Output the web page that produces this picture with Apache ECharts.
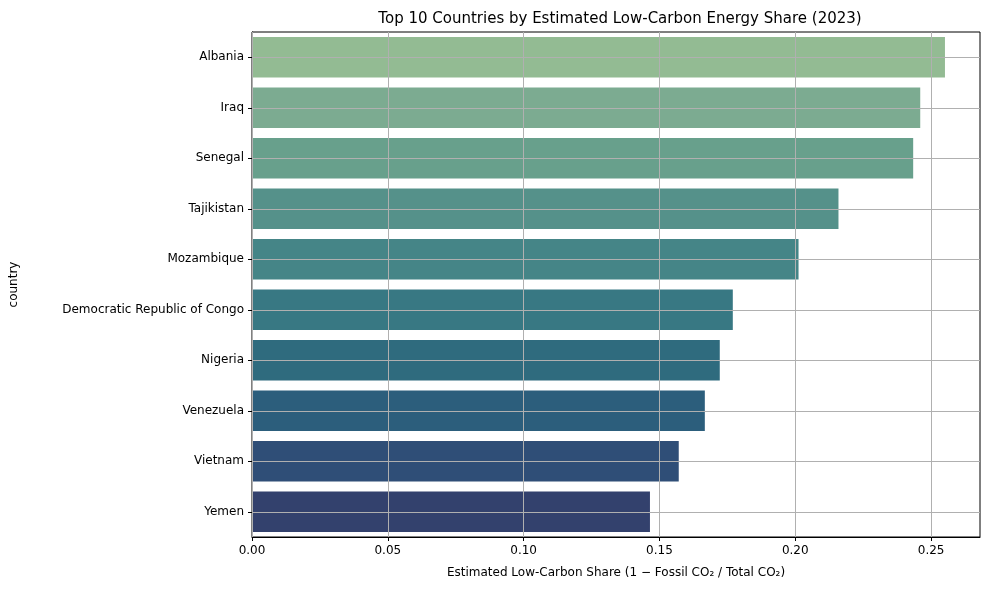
<!DOCTYPE html>
<html>
<head>
<meta charset="UTF-8">
<title>Low-Carbon Share</title>
<script src="https://cdn.jsdelivr.net/npm/echarts@6/dist/echarts.min.js"></script>
</head>
<body style="margin:0">
<div id="container" style="width:989px;height:590px"></div>
<script type="text/javascript">
var countries = ['Albania', 'Iraq', 'Senegal', 'Tajikistan', 'Mozambique', 'Democratic Republic of Congo', 'Nigeria', 'Venezuela', 'Vietnam', 'Yemen'];
var shares = [0.2551, 0.2460, 0.2434, 0.2159, 0.2012, 0.1770, 0.1722, 0.1667, 0.1571, 0.1465];
var colors = ['#93bb93', '#7cab91', '#68a08c', '#55918a', '#458587', '#387883', '#2f6b7e', '#2c5e7c', '#2f4e77', '#33416d'];
var xTicks = [0, 0.05, 0.10, 0.15, 0.20, 0.25];

var grid = {color: '#b0b0b0', width: 1};
var markData = xTicks.map(function (v) { return {xAxis: v}; })
    .concat(countries.map(function (c) { return {yAxis: c}; }));

var myChart = echarts.init(document.getElementById('container'));
myChart.setOption({
    animation: false,
    textStyle: {fontFamily: 'DejaVu Sans', color: '#000'},
    title: {
        text: 'Top 10 Countries by Estimated Low-Carbon Energy Share (2023)',
        left: 615, top: 7, textAlign: 'center',
        textStyle: {fontSize: 15, fontWeight: 'normal', color: '#000'}
    },
    grid: {left: 250, right: 9, top: 32, bottom: 53, show: true, borderColor: '#000', borderWidth: 1},
    xAxis: {
        type: 'value', min: 0, max: 0.268, interval: 0.05,
        name: 'Estimated Low-Carbon Share (1 \u2212 Fossil CO\u2082 / Total CO\u2082)',
        nameLocation: 'middle', nameGap: 30, nameTextStyle: {fontSize: 12, color: '#000'},
        axisLine: {show: true, lineStyle: {color: '#000'}},
        axisTick: {show: true, length: 4, lineStyle: {color: '#000'}},
        axisLabel: {color: '#000', fontSize: 12, formatter: function (v) { return v.toFixed(2); },
            showMaxLabel: false},
        splitLine: {show: false}
    },
    yAxis: {
        type: 'category', data: countries, inverse: true,
        name: 'country', nameLocation: 'middle', nameGap: 232, nameRotate: 90,
        nameTextStyle: {fontSize: 12, color: '#000'},
        axisLine: {show: true, lineStyle: {color: '#000'}},
        axisTick: {show: true, alignWithLabel: true, length: 4, lineStyle: {color: '#000'}},
        axisLabel: {color: '#000', fontSize: 12, margin: 8},
        splitLine: {show: false}
    },
    series: [{
        type: 'bar',
        barCategoryGap: '20%',
        data: shares.map(function (v, i) { return {value: v, itemStyle: {color: colors[i]}}; }),
        markLine: {
            silent: true, symbol: 'none', label: {show: false},
            lineStyle: {color: '#b0b0b0', type: 'solid', width: 1},
            data: markData
        }
    }]
});
</script>
</body>
</html>
